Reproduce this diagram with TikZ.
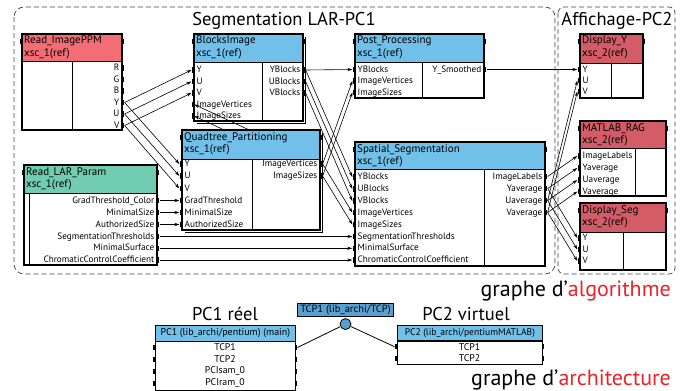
\documentclass[tikz,border=0pt]{standalone}
\usepackage{fontspec}
\setmainfont{PT Sans}
\usepackage{tikz}
\usetikzlibrary{arrows.meta, positioning}
\definecolor{hdblue}{RGB}{112,192,234}
\definecolor{hdred}{RGB}{242,110,116}
\definecolor{hddark}{RGB}{212,92,102}
\definecolor{hdgreen}{RGB}{114,204,178}
\definecolor{tcpblue}{RGB}{88,160,208}
\definecolor{algored}{RGB}{236,34,40}
\pgfdeclarelayer{wires}
\pgfdeclarelayer{front}
\pgfsetlayers{wires,main,front}

\tikzset{
  pmark/.style={fill=black, inner sep=0pt, minimum width=2.5pt, minimum height=5.5pt},
  plab/.style={inner sep=0pt, text height=6.8pt, text depth=1.8pt, font=\fontsize{9.2}{10}\selectfont},
  head/.style={anchor=north west, align=left, inner sep=1pt, font=\fontsize{11}{12.5}\selectfont},
  wire/.style={-{Stealth[length=5pt,width=3.2pt]}, line width=0.6pt},
  zone/.style={dashed, dash pattern=on 5pt off 3pt, line width=0.7pt, black!75},
  big/.style={inner sep=0pt, font=\fontsize{18.5}{20}\selectfont},
  huge/.style={inner sep=0pt, font=\fontsize{22}{24}\selectfont},
  pc/.style={draw, fill=hdblue, inner sep=1pt, line width=0.8pt, minimum height=15.5pt, font=\fontsize{10}{11}\selectfont},
  alab/.style={inner sep=0pt, font=\fontsize{9.8}{11}\selectfont},
}

% name, x1, y1, x2, y header, y2, x divider, colour, title
\newcommand{\block}[9]{%
  \filldraw[fill=white, line width=1.2pt] (#2,#3) rectangle (#4,#6);
  \filldraw[fill=#8, line width=0.6pt] (#2,#3) rectangle (#4,#5);
  \draw[line width=0.6pt] (#7,#5) -- (#7,#6);
  \draw[line width=1.2pt] (#2,#3) rectangle (#4,#6);
  \node[head] (#1) at (#2+1,#3+1) {#9};
  \node[pmark] (#1-t1) at (#2-1.2,#3+7.5) {};
  \node[pmark] (#1-t2) at (#4+1.2,#3+7.5) {};}
\newcommand{\inport}[4]{%
  \node[pmark] (#1) at (#2-1.2,#3) {};
  \node[plab, anchor=west] (#1-l) at (#2+2.5,#3) {#4};}
\newcommand{\outport}[4]{%
  \node[pmark] (#1) at (#2+1.2,#3) {};
  \node[plab, anchor=east] (#1-l) at (#2-2.5,#3) {#4};}

\begin{document}
\begin{tikzpicture}[x=1pt, y=-1pt]
\useasboundingbox (0,0) rectangle (691,391);

\draw[zone, rounded corners=10pt] (14,7) rectangle (555,274);
\draw[zone, rounded corners=6pt] (558,7) rectangle (675,274);
\node[big, anchor=base] (tseg) at (284,25) {Segmentation LAR-PC1};
\node[big, anchor=base] (taff) at (617,25) {Affichage-PC2};

\block{rip}{22}{34}{122}{61}{130}{72}{hdred}{Read\_ImagePPM\\xsc\_1(ref)}
\foreach \n/\y in {R/68, G/79.5, B/91, Y/102.5, U/114, V/125.5}
  \outport{rip-\n}{122}{\y}{\n};

\block{bim}{194}{34}{303}{62}{121}{262}{hdblue}{BlocksImage\\xsc\_1(ref)}
\draw[line width=0.6pt] (305.5,37) -- (305.5,123.5) -- (197,123.5);
\foreach \n/\y/\t in {Y/70/Y, U/81.5/U, V/93/V, IV/104.5/ImageVertices, IS/116/ImageSizes}
  \inport{bim-\n}{194}{\y}{\t};
\foreach \n/\y/\t in {YB/70/YBlocks, UB/81.5/UBlocks, VB/93/VBlocks}
  \outport{bim-\n}{303}{\y}{\t};

\block{pp}{355}{34}{484}{62}{98}{422}{hdblue}{Post\_Processing\\xsc\_1(ref)}
\foreach \n/\y/\t in {YB/69.5/YBlocks, IV/81/ImageVertices, IS/92.5/ImageSizes}
  \inport{pp-\n}{355}{\y}{\t};
\outport{pp-YS}{484}{69.5}{Y\_Smoothed}

\block{dy}{580}{34}{643}{63}{98}{611}{hddark}{Display\_Y\\xsc\_2(ref)}
\foreach \n/\y in {Y/69.5, U/80.5, V/91.5}
  \inport{dy-\n}{580}{\y}{\n};

\begin{pgfonlayer}{front}
\block{qt}{182}{130}{320}{159}{230}{252}{hdblue}{Quadtree\_Partitioning\\xsc\_1(ref)}
\draw[line width=0.6pt] (322.5,133) -- (322.5,232.5) -- (185,232.5);
\foreach \n/\y/\t in {Y/164/Y, U/176/U, V/188.5/V, GT/200.5/GradThreshold, MS/212.5/MinimalSize, AS/224.5/AuthorizedSize}
  \inport{qt-\n}{182}{\y}{\t};
\foreach \n/\y/\t in {IV/164/ImageVertices, IS/176/ImageSizes}
  \outport{qt-\n}{320}{\y}{\t};
\end{pgfonlayer}

\block{lar}{24}{165}{157}{193}{265}{29}{hdgreen}{Read\_LAR\_Param\\xsc\_1(ref)}
\foreach \n/\y/\t in {GT/200.5/GradThreshold\_Color, MS/212.5/MinimalSize, AS/224.5/AuthorizedSize, ST/236.5/SegmentationThresholds, SF/248.3/MinimalSurface, CC/260/ChromaticControlCoefficient}
  \outport{lar-\n}{157}{\y}{\t};

\block{ss}{355}{142}{545}{169.5}{266}{484}{hdblue}{Spatial\_Segmentation\\xsc\_1(ref)}
\foreach \n/\y/\t in {YB/177/YBlocks, UB/189/UBlocks, VB/201/VBlocks, IV/212.5/ImageVertices, IS/224.5/ImageSizes, ST/236.5/SegmentationThresholds, SF/248.3/MinimalSurface, CC/260/ChromaticControlCoefficient}
  \inport{ss-\n}{355}{\y}{\t};
\foreach \n/\y/\t in {IL/176.5/ImageLabels, YA/188.5/Yaverage, UA/200.5/Uaverage, VA/212.5/Vaverage}
  \outport{ss-\n}{545}{\y}{\t};

\block{mr}{580}{121}{666}{148}{196}{635}{hddark}{MATLAB\_RAG\\xsc\_2(ref)}
\foreach \n/\y/\t in {IL/156/ImageLabels, YA/168/Yaverage, UA/180/Uaverage, VA/191.5/Vaverage}
  \inport{mr-\n}{580}{\y}{\t};

\block{ds}{580}{203}{666}{232}{270}{623}{hddark}{Display\_Seg\\xsc\_2(ref)}
\foreach \n/\y in {Y/238, U/249.5, V/261}
  \inport{ds-\n}{580}{\y}{\n};

\begin{pgfonlayer}{wires}
\foreach \a/\b in {rip-Y/bim-Y, rip-U/bim-U, rip-V/bim-V, rip-Y/qt-Y, rip-U/qt-U, rip-V/qt-V,
    lar-GT/qt-GT, lar-MS/qt-MS, lar-AS/qt-AS, lar-ST/ss-ST, lar-SF/ss-SF, lar-CC/ss-CC,
    qt-IV/pp-IV, qt-IS/pp-IS, qt-IV/ss-IV, qt-IS/ss-IS,
    bim-YB/pp-YB, bim-YB/ss-YB, bim-UB/ss-UB, bim-VB/ss-VB,
    pp-YS/dy-Y, ss-UA/dy-U, ss-VA/dy-V,
    ss-IL/mr-IL, ss-YA/mr-YA, ss-UA/mr-UA, ss-VA/mr-VA,
    ss-YA/ds-Y, ss-UA/ds-U, ss-VA/ds-V}
  \draw[wire] (\a.east) -- (\b.west);
\end{pgfonlayer}
\foreach \a/\b in {qt-IV/bim-IV, qt-IS/bim-IS}
  \draw[wire] (\a.east) -- (\b.east);

\node[huge, anchor=base east] (galg) at (671,296.5) {graphe d'\textcolor{algored}{algorithme}};

% architecture graph
\node[big, anchor=base] (pc1t) at (225,320) {PC1 réel};
\node[big, anchor=base] (pc2t) at (466,320) {PC2 virtuel};

\node[pc, minimum width=140pt, anchor=north west] (pc1) at (155,325) {PC1 (lib\_archi/pentium) (main)};
\node[draw, line width=1pt, minimum width=140pt, minimum height=48.5pt, inner sep=0pt, below=0pt of pc1] (pc1b) {};
\foreach \i/\y/\t in {1/347.5/TCP1, 2/359.5/TCP2, 3/371.5/PCIsam\_0, 4/383.5/PCIram\_0} {
  \node[alab] (pc1-\i) at (225,\y) {\t};
  \node[pmark] (pc1-l\i) at (154,\y) {};
  \node[pmark] (pc1-r\i) at (296,\y) {};
}

\node[pc, minimum width=145pt, anchor=north west, font=\fontsize{9.6}{11}\selectfont] (pc2) at (397,324.5) {PC2 (lib\_archi/pentiumMATLAB)};
\node[draw, line width=1pt, minimum width=145pt, minimum height=23.5pt, inner sep=0pt, below=0pt of pc2] (pc2b) {};
\foreach \i/\y/\t in {1/346.7/TCP1, 2/358.3/TCP2} {
  \node[alab] (pc2-\i) at (469.5,\y) {\t};
  \node[pmark] (pc2-l\i) at (396,\y) {};
  \node[pmark] (pc2-r\i) at (543,\y) {};
}

\node[pc, fill=tcpblue, minimum width=95.5pt, minimum height=13.5pt, font=\fontsize{10.5}{11}\selectfont] (tcp) at (345.5,310) {TCP1 (lib\_archi/TCP)};
\node[circle, draw, fill=tcpblue, line width=0.8pt, minimum size=11pt, inner sep=0pt, below=1pt of tcp] (tcpc) {};
\draw[line width=0.8pt] (pc1-r1.east) -- (tcpc) -- (pc2-l1.west);

\node[huge, anchor=base east] (garc) at (671,385) {graphe d'\textcolor{algored}{architecture}};
\end{tikzpicture}
\end{document}
